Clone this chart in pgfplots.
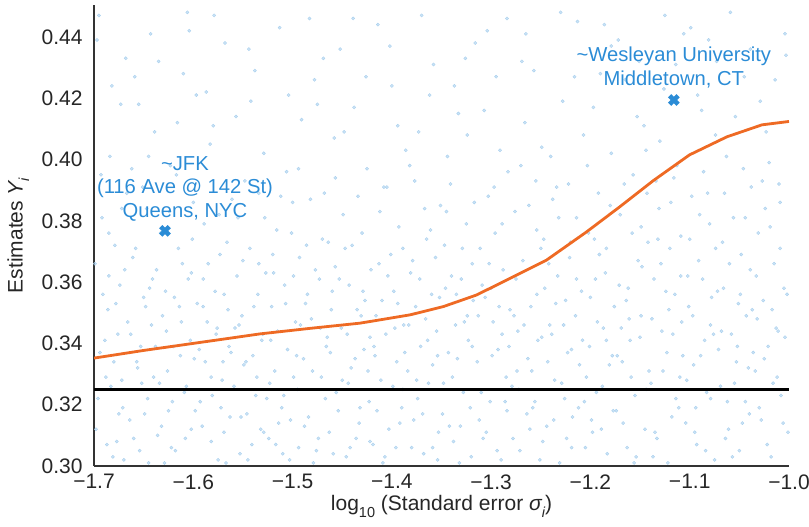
\documentclass[border=0pt]{standalone}
\usepackage{fontspec}
\setmainfont{Liberation Sans}
\usepackage{pgfplots}
\pgfplotsset{compat=1.18}
\definecolor{anno}{HTML}{2B8CD6}
\definecolor{curve}{HTML}{EE6A24}
\definecolor{dots}{HTML}{A9D0EE}
\newcommand\sub[1]{\raisebox{-0.3em}{\fontsize{14.5}{14}\selectfont #1}}
\begin{document}
\begin{tikzpicture}
\begin{axis}[
  name=ax,
  scale only axis, width=695pt, height=461pt,
  xmin=-1.7, xmax=-1.0, ymin=0.30, ymax=0.4504,
  clip mode=individual,
  axis lines=left, axis line style={-, draw=black!80, line width=1.2pt},
  xtick={-1.7,-1.6,-1.5,-1.4,-1.3,-1.2,-1.1,-1.0},
  xticklabels={−1.7,−1.6,−1.5,−1.4,−1.3,−1.2,−1.1,−1.0},
  ytick={0.30,0.32,0.34,0.36,0.38,0.40,0.42,0.44},
  yticklabels={0.30,0.32,0.34,0.36,0.38,0.40,0.42,0.44},
  major tick length=0pt,
  tick label style={font=\fontsize{21}{24}\selectfont, text=black!85},
  xticklabel style={yshift=-5pt},
  yticklabel style={xshift=-8pt},
  label style={font=\fontsize{21}{24}\selectfont, text=black!85},
  xlabel={log\sub{10} (Standard error \textit{σ\sub{i}})},
  ylabel={Estimates \textit{Y\sub{i}}},
  xlabel style={at={(axis description cs:0.5,-0.0564)}, anchor=north},
  ylabel style={at={(axis description cs:-0.1295,0.5)}, anchor=north},
]
\addplot[only marks, mark=*, mark size=1.6pt, color=dots, mark options={draw=none, fill=dots, fill opacity=0.6}] coordinates {
(-1.698,0.312) (-1.695,0.447) (-1.691,0.356) (-1.688,0.329) (-1.684,0.401) (-1.681,0.303) (-1.679,0.372) (-1.676,0.343) (-1.673,0.418) (-1.671,0.319) (-1.669,0.364) (-1.667,0.389) (-1.694,0.337) (-1.686,0.351) (-1.677,0.308) (-1.668,0.433) (-1.692,0.381) (-1.683,0.326) (-1.674,0.359) (-1.666,0.347)
(-1.664,0.315) (-1.661,0.368) (-1.659,0.427) (-1.657,0.334) (-1.654,0.305) (-1.651,0.391) (-1.648,0.352) (-1.646,0.322) (-1.643,0.441) (-1.641,0.361) (-1.638,0.339) (-1.636,0.310) (-1.633,0.376) (-1.631,0.349) (-1.662,0.397) (-1.656,0.332) (-1.649,0.317) (-1.644,0.358) (-1.639,0.409) (-1.634,0.327)
(-1.629,0.301) (-1.627,0.344) (-1.624,0.383) (-1.621,0.321) (-1.619,0.355) (-1.616,0.412) (-1.613,0.336) (-1.611,0.366) (-1.608,0.309) (-1.606,0.448) (-1.603,0.341) (-1.601,0.374) (-1.598,0.318) (-1.596,0.353) (-1.626,0.331) (-1.617,0.395) (-1.609,0.324) (-1.602,0.363) (-1.622,0.306) (-1.597,0.421)
(-1.594,0.338) (-1.591,0.313) (-1.589,0.379) (-1.586,0.347) (-1.583,0.405) (-1.581,0.323) (-1.578,0.357) (-1.575,0.302) (-1.573,0.369) (-1.570,0.334) (-1.568,0.438) (-1.565,0.351) (-1.563,0.316) (-1.561,0.387) (-1.590,0.361) (-1.582,0.329) (-1.576,0.345) (-1.569,0.311) (-1.587,0.422) (-1.564,0.339)
(-1.559,0.326) (-1.556,0.362) (-1.553,0.304) (-1.551,0.349) (-1.548,0.393) (-1.546,0.317) (-1.543,0.371) (-1.540,0.336) (-1.538,0.429) (-1.535,0.356) (-1.532,0.312) (-1.530,0.343) (-1.528,0.381) (-1.526,0.322) (-1.557,0.414) (-1.549,0.333) (-1.541,0.307) (-1.534,0.366) (-1.554,0.346) (-1.529,0.402)
(-1.524,0.309) (-1.521,0.352) (-1.518,0.331) (-1.516,0.377) (-1.513,0.443) (-1.511,0.319) (-1.508,0.359) (-1.505,0.338) (-1.503,0.302) (-1.500,0.386) (-1.497,0.347) (-1.495,0.325) (-1.493,0.368) (-1.491,0.413) (-1.522,0.341) (-1.514,0.314) (-1.506,0.396) (-1.499,0.329) (-1.519,0.363) (-1.494,0.306)
(-1.489,0.335) (-1.486,0.372) (-1.484,0.316) (-1.481,0.348) (-1.478,0.426) (-1.476,0.305) (-1.473,0.361) (-1.471,0.329) (-1.468,0.389) (-1.465,0.342) (-1.463,0.311) (-1.460,0.357) (-1.458,0.407) (-1.456,0.324) (-1.487,0.353) (-1.479,0.301) (-1.470,0.374) (-1.462,0.337) (-1.483,0.446) (-1.457,0.365)
(-1.454,0.318) (-1.451,0.345) (-1.449,0.382) (-1.446,0.303) (-1.443,0.359) (-1.441,0.332) (-1.438,0.417) (-1.435,0.351) (-1.433,0.314) (-1.430,0.376) (-1.428,0.338) (-1.425,0.397) (-1.423,0.321) (-1.421,0.364) (-1.452,0.436) (-1.444,0.327) (-1.436,0.309) (-1.427,0.354) (-1.447,0.371) (-1.422,0.342)
(-1.419,0.307) (-1.416,0.349) (-1.413,0.366) (-1.411,0.328) (-1.408,0.391) (-1.406,0.343) (-1.403,0.312) (-1.400,0.424) (-1.398,0.357) (-1.395,0.334) (-1.393,0.378) (-1.390,0.319) (-1.388,0.346) (-1.386,0.403) (-1.417,0.336) (-1.409,0.301) (-1.401,0.369) (-1.394,0.353) (-1.414,0.444) (-1.389,0.325)
(-1.384,0.331) (-1.381,0.363) (-1.378,0.315) (-1.376,0.352) (-1.373,0.409) (-1.371,0.339) (-1.368,0.304) (-1.365,0.374) (-1.363,0.327) (-1.360,0.356) (-1.358,0.431) (-1.355,0.344) (-1.353,0.311) (-1.351,0.385) (-1.382,0.398) (-1.374,0.322) (-1.366,0.348) (-1.359,0.306) (-1.379,0.367) (-1.354,0.336)
(-1.349,0.317) (-1.346,0.358) (-1.343,0.337) (-1.341,0.392) (-1.338,0.308) (-1.336,0.346) (-1.333,0.415) (-1.330,0.361) (-1.328,0.324) (-1.325,0.379) (-1.323,0.341) (-1.320,0.303) (-1.318,0.354) (-1.316,0.438) (-1.347,0.372) (-1.339,0.329) (-1.331,0.313) (-1.324,0.349) (-1.344,0.401) (-1.319,0.366)
(-1.314,0.334) (-1.311,0.371) (-1.308,0.309) (-1.306,0.355) (-1.303,0.388) (-1.301,0.321) (-1.298,0.347) (-1.295,0.427) (-1.293,0.338) (-1.290,0.302) (-1.288,0.364) (-1.285,0.329) (-1.283,0.396) (-1.281,0.351) (-1.312,0.315) (-1.304,0.442) (-1.296,0.376) (-1.289,0.343) (-1.309,0.359) (-1.284,0.318)
(-1.279,0.326) (-1.276,0.383) (-1.273,0.344) (-1.271,0.305) (-1.268,0.367) (-1.266,0.412) (-1.263,0.335) (-1.260,0.352) (-1.258,0.319) (-1.255,0.393) (-1.253,0.341) (-1.250,0.371) (-1.248,0.308) (-1.246,0.358) (-1.277,0.349) (-1.269,0.432) (-1.261,0.312) (-1.254,0.377) (-1.274,0.331) (-1.249,0.404)
(-1.244,0.313) (-1.241,0.346) (-1.238,0.387) (-1.236,0.328) (-1.233,0.362) (-1.231,0.301) (-1.228,0.419) (-1.225,0.354) (-1.223,0.337) (-1.220,0.373) (-1.218,0.316) (-1.215,0.349) (-1.213,0.445) (-1.211,0.333) (-1.242,0.366) (-1.234,0.391) (-1.226,0.322) (-1.219,0.306) (-1.239,0.343) (-1.214,0.381)
(-1.209,0.357) (-1.206,0.321) (-1.203,0.398) (-1.201,0.339) (-1.198,0.311) (-1.196,0.374) (-1.193,0.347) (-1.190,0.428) (-1.188,0.326) (-1.185,0.363) (-1.183,0.304) (-1.180,0.385) (-1.178,0.336) (-1.176,0.352) (-1.207,0.408) (-1.199,0.315) (-1.191,0.369) (-1.184,0.341) (-1.204,0.329) (-1.179,0.437)
(-1.174,0.318) (-1.171,0.359) (-1.168,0.334) (-1.166,0.392) (-1.163,0.306) (-1.161,0.348) (-1.158,0.376) (-1.155,0.323) (-1.153,0.414) (-1.150,0.342) (-1.148,0.365) (-1.145,0.312) (-1.143,0.389) (-1.141,0.331) (-1.172,0.439) (-1.164,0.354) (-1.156,0.301) (-1.149,0.378) (-1.169,0.345) (-1.144,0.403)
(-1.139,0.327) (-1.136,0.361) (-1.133,0.309) (-1.131,0.384) (-1.128,0.344) (-1.126,0.423) (-1.123,0.337) (-1.120,0.371) (-1.118,0.316) (-1.115,0.356) (-1.113,0.398) (-1.110,0.329) (-1.108,0.347) (-1.106,0.441) (-1.137,0.303) (-1.129,0.366) (-1.121,0.351) (-1.114,0.322) (-1.134,0.393) (-1.109,0.375)
(-1.104,0.314) (-1.101,0.352) (-1.098,0.388) (-1.096,0.333) (-1.093,0.307) (-1.091,0.367) (-1.088,0.416) (-1.085,0.341) (-1.083,0.324) (-1.080,0.379) (-1.078,0.355) (-1.075,0.302) (-1.073,0.432) (-1.071,0.338) (-1.102,0.362) (-1.094,0.319) (-1.086,0.396) (-1.079,0.346) (-1.099,0.443) (-1.074,0.371)
(-1.069,0.326) (-1.066,0.358) (-1.063,0.401) (-1.061,0.312) (-1.058,0.343) (-1.056,0.381) (-1.053,0.334) (-1.050,0.305) (-1.048,0.369) (-1.045,0.427) (-1.043,0.349) (-1.040,0.317) (-1.038,0.391) (-1.036,0.337) (-1.067,0.373) (-1.059,0.448) (-1.051,0.353) (-1.044,0.321) (-1.064,0.309) (-1.039,0.364)
(-1.034,0.331) (-1.031,0.376) (-1.028,0.315) (-1.026,0.354) (-1.023,0.409) (-1.021,0.339) (-1.018,0.303) (-1.015,0.366) (-1.013,0.345) (-1.010,0.392) (-1.008,0.323) (-1.005,0.358) (-1.003,0.434) (-1.001,0.311) (-1.032,0.348) (-1.024,0.384) (-1.016,0.327) (-1.009,0.371) (-1.029,0.419) (-1.004,0.342)
(-1.699,0.366) (-1.696,0.322) (-1.693,0.395) (-1.689,0.341) (-1.687,0.307) (-1.685,0.376) (-1.682,0.424) (-1.680,0.334) (-1.678,0.353) (-1.675,0.317) (-1.672,0.384) (-1.670,0.302) (-1.697,0.439) (-1.685,0.362) (-1.672,0.328)
(-1.663,0.343) (-1.660,0.309) (-1.658,0.371) (-1.655,0.418) (-1.652,0.327) (-1.650,0.355) (-1.647,0.384) (-1.645,0.301) (-1.642,0.346) (-1.640,0.329) (-1.637,0.364) (-1.635,0.432) (-1.632,0.313) (-1.653,0.339) (-1.645,0.401)
(-1.628,0.357) (-1.625,0.318) (-1.623,0.398) (-1.620,0.339) (-1.618,0.305) (-1.615,0.371) (-1.612,0.347) (-1.610,0.428) (-1.607,0.326) (-1.605,0.361) (-1.602,0.312) (-1.600,0.386) (-1.599,0.335) (-1.614,0.352) (-1.604,0.442)
(-1.593,0.321) (-1.590,0.352) (-1.588,0.334) (-1.585,0.366) (-1.582,0.308) (-1.580,0.411) (-1.577,0.343) (-1.574,0.382) (-1.572,0.319) (-1.569,0.356) (-1.567,0.301) (-1.566,0.373) (-1.562,0.337) (-1.579,0.447) (-1.571,0.328)
(-1.558,0.345) (-1.555,0.381) (-1.552,0.316) (-1.550,0.367) (-1.547,0.334) (-1.545,0.302) (-1.542,0.419) (-1.539,0.352) (-1.537,0.323) (-1.534,0.389) (-1.531,0.341) (-1.529,0.311) (-1.527,0.363) (-1.544,0.436) (-1.536,0.329)
(-1.523,0.327) (-1.520,0.369) (-1.517,0.307) (-1.515,0.344) (-1.512,0.388) (-1.509,0.323) (-1.507,0.353) (-1.504,0.421) (-1.502,0.315) (-1.499,0.362) (-1.496,0.336) (-1.494,0.397) (-1.492,0.346) (-1.510,0.304) (-1.501,0.376)
(-1.488,0.313) (-1.485,0.356) (-1.482,0.387) (-1.480,0.331) (-1.477,0.364) (-1.474,0.309) (-1.472,0.345) (-1.469,0.433) (-1.467,0.322) (-1.464,0.373) (-1.461,0.351) (-1.459,0.304) (-1.457,0.394) (-1.475,0.418) (-1.466,0.339)
(-1.453,0.361) (-1.450,0.328) (-1.448,0.409) (-1.445,0.343) (-1.442,0.306) (-1.440,0.372) (-1.437,0.335) (-1.434,0.388) (-1.432,0.319) (-1.429,0.357) (-1.426,0.427) (-1.424,0.331) (-1.422,0.308) (-1.439,0.446) (-1.431,0.349)
(-1.418,0.339) (-1.415,0.318) (-1.412,0.383) (-1.410,0.354) (-1.407,0.303) (-1.404,0.362) (-1.402,0.437) (-1.399,0.326) (-1.397,0.345) (-1.394,0.411) (-1.392,0.314) (-1.389,0.371) (-1.387,0.337) (-1.405,0.391) (-1.396,0.306)
(-1.383,0.346) (-1.380,0.306) (-1.377,0.393) (-1.375,0.328) (-1.372,0.361) (-1.369,0.317) (-1.367,0.384) (-1.364,0.341) (-1.362,0.421) (-1.359,0.333) (-1.356,0.368) (-1.354,0.302) (-1.352,0.355) (-1.370,0.447) (-1.361,0.377)
(-1.348,0.327) (-1.345,0.383) (-1.342,0.313) (-1.340,0.362) (-1.337,0.424) (-1.334,0.335) (-1.332,0.301) (-1.329,0.371) (-1.327,0.347) (-1.324,0.408) (-1.321,0.319) (-1.319,0.339) (-1.317,0.386) (-1.335,0.356) (-1.326,0.433)
(-1.313,0.349) (-1.310,0.324) (-1.307,0.416) (-1.305,0.311) (-1.302,0.366) (-1.299,0.336) (-1.297,0.391) (-1.294,0.305) (-1.292,0.352) (-1.289,0.379) (-1.286,0.321) (-1.284,0.446) (-1.282,0.339) (-1.300,0.358) (-1.291,0.403)
(-1.278,0.309) (-1.275,0.361) (-1.272,0.325) (-1.270,0.398) (-1.267,0.346) (-1.264,0.317) (-1.262,0.385) (-1.259,0.331) (-1.257,0.429) (-1.254,0.356) (-1.251,0.302) (-1.249,0.342) (-1.247,0.374) (-1.265,0.441) (-1.256,0.321)
(-1.243,0.334) (-1.240,0.401) (-1.237,0.315) (-1.235,0.353) (-1.232,0.381) (-1.229,0.327) (-1.227,0.346) (-1.224,0.309) (-1.222,0.392) (-1.219,0.338) (-1.216,0.427) (-1.214,0.361) (-1.212,0.319) (-1.230,0.448) (-1.221,0.368)
(-1.208,0.341) (-1.205,0.306) (-1.202,0.376) (-1.200,0.355) (-1.197,0.417) (-1.194,0.324) (-1.192,0.389) (-1.189,0.312) (-1.187,0.345) (-1.184,0.371) (-1.181,0.333) (-1.179,0.402) (-1.177,0.318) (-1.195,0.361) (-1.186,0.444)
(-1.173,0.336) (-1.170,0.382) (-1.167,0.314) (-1.165,0.426) (-1.162,0.358) (-1.159,0.329) (-1.157,0.395) (-1.154,0.303) (-1.152,0.367) (-1.149,0.349) (-1.146,0.411) (-1.144,0.325) (-1.142,0.373) (-1.160,0.341) (-1.151,0.432)
(-1.138,0.348) (-1.135,0.311) (-1.132,0.374) (-1.130,0.406) (-1.127,0.331) (-1.124,0.357) (-1.122,0.301) (-1.119,0.386) (-1.117,0.343) (-1.114,0.431) (-1.111,0.319) (-1.109,0.362) (-1.107,0.336) (-1.125,0.447) (-1.116,0.394)
(-1.103,0.328) (-1.100,0.374) (-1.097,0.349) (-1.095,0.311) (-1.092,0.421) (-1.089,0.336) (-1.087,0.361) (-1.084,0.305) (-1.082,0.389) (-1.079,0.322) (-1.076,0.343) (-1.074,0.408) (-1.072,0.357) (-1.090,0.382) (-1.081,0.439)
(-1.068,0.344) (-1.065,0.389) (-1.062,0.321) (-1.060,0.366) (-1.057,0.303) (-1.054,0.414) (-1.052,0.339) (-1.049,0.356) (-1.047,0.314) (-1.044,0.381) (-1.041,0.332) (-1.039,0.436) (-1.037,0.351) (-1.055,0.327) (-1.046,0.397)
(-1.033,0.362) (-1.030,0.319) (-1.027,0.393) (-1.025,0.335) (-1.022,0.307) (-1.019,0.378) (-1.017,0.351) (-1.014,0.426) (-1.012,0.329) (-1.009,0.386) (-1.006,0.314) (-1.004,0.441) (-1.002,0.356) (-1.020,0.399) (-1.011,0.344)
};
\addplot[black, line width=3pt] coordinates {(-1.7,0.3248) (-1.0,0.3248)};
\addplot[curve, line width=2.8pt, line join=round] coordinates {
(-1.700,0.3352) (-1.650,0.3377) (-1.600,0.3400) (-1.550,0.3423) (-1.5328,0.3431) (-1.4825,0.3449) (-1.4321,0.3466) (-1.3818,0.3493) (-1.3482,0.3520) (-1.3146,0.3558) (-1.2811,0.3612) (-1.2441,0.3672) (-1.2038,0.3764) (-1.1703,0.3846) (-1.1367,0.3931) (-1.1002,0.4015) (-1.0625,0.4074) (-1.0272,0.4113) (-1.000,0.4124)
};
\addplot[only marks, mark=x, mark size=6pt, line width=4.5pt, color=anno] coordinates {(-1.6285,0.3767) (-1.116,0.4194)};
\node[anno, align=center, font=\fontsize{20.2}{23.5}\selectfont, anchor=south, inner sep=0pt] at (axis cs:-1.6084,0.3798) {\textasciitilde JFK\\(116 Ave @ 142 St)\\Queens, NYC};
\node[anno, align=center, font=\fontsize{20.2}{23.5}\selectfont, anchor=south, inner sep=0pt] at (axis cs:-1.116,0.4233) {\textasciitilde Wesleyan University\\Middletown, CT};
\end{axis}
\pgfresetboundingbox
\path[use as bounding box] ([shift={(-94pt,-60pt)}]ax.south west) rectangle ([shift={(20pt,5pt)}]ax.north east);
\end{tikzpicture}
\end{document}
